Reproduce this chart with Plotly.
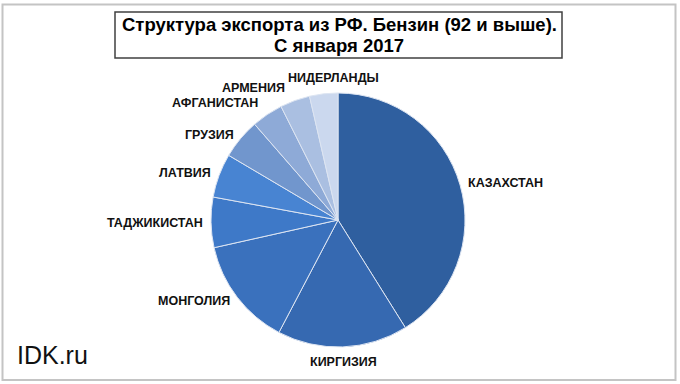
import math
import plotly.graph_objects as go

countries = ["КАЗАХСТАН", "КИРГИЗИЯ", "МОНГОЛИЯ", "ТАДЖИКИСТАН", "ЛАТВИЯ",
             "ГРУЗИЯ", "АФГАНИСТАН", "АРМЕНИЯ", "НИДЕРЛАНДЫ"]
shares = [41.1, 16.6, 13.8, 6.4, 5.6, 5.1, 4.0, 3.8, 3.6]
colors = ["#2F5F9F", "#3669B1", "#3A71BD", "#3E79C8", "#4884D2",
          "#7196CD", "#8EAAD7", "#AABFE1", "#CBD8EE"]

title_lines = ["Структура экспорта из РФ. Бензин (92 и выше).", "С января 2017"]
watermark = "IDK.ru"

W, H = 680, 384
cx, cy, r = 338, 220, 127
FONT = "Arial, 'Liberation Sans', sans-serif"
LBL = 12.5

fig = go.Figure()
fig.add_trace(go.Pie(
    labels=countries, values=shares, sort=False, direction="clockwise",
    rotation=0, textinfo="none", hoverinfo="label+percent",
    marker=dict(colors=colors, line=dict(color="#dde5f2", width=1)),
    domain=dict(x=[(cx - r) / W, (cx + r) / W],
                y=[1 - (cy + r) / H, 1 - (cy - r) / H]),
    showlegend=False,
))

# ---- outside labels: start at slice mid-angles, spread apart to avoid overlap
total = sum(shares)
angles = []
cum = 0.0
for v in shares:
    angles.append((cum + v / 2) / total * 2 * math.pi)
    cum += v
k = 1.05
widths = [len(n) * 0.72 * LBL for n in countries]
hgt = LBL * 1.2


def place(a, w):
    s, c = math.sin(a), math.cos(a)
    px, py = cx + s * r * k, cy - c * r * k
    xa = "left" if s > 0.25 else ("right" if s < -0.25 else "center")
    ya = "bottom" if c > 0.75 else ("top" if c < -0.75 else "middle")
    x0 = px if xa == "left" else (px - w if xa == "right" else px - w / 2)
    y0 = py - hgt if ya == "bottom" else (py if ya == "top" else py - hgt / 2)
    return px, py, xa, ya, (x0, y0, x0 + w, y0 + hgt)


def overlap(b1, b2, pad=2):
    return not (b1[2] + pad <= b2[0] or b2[2] + pad <= b1[0] or
                b1[3] <= b2[1] or b2[3] <= b1[1])


n = len(countries)
step = math.radians(0.25)
for _ in range(400):
    moved = False
    for i in range(n):
        j = (i + 1) % n
        bi = place(angles[i], widths[i])[4]
        bj = place(angles[j], widths[j])[4]
        if overlap(bi, bj):
            angles[i] -= step
            angles[j] += step
            moved = True
    if not moved:
        break

for name, a, w in zip(countries, angles, widths):
    px, py, xa, ya, _ = place(a, w)
    fig.add_annotation(x=px / W, y=1 - py / H, xref="paper", yref="paper",
                       text="<b>" + name + "</b>", showarrow=False,
                       xanchor=xa, yanchor=ya,
                       font=dict(family=FONT, size=LBL, color="#111111"))

# ---- title box
fig.add_shape(type="rect", xref="paper", yref="paper",
              x0=115 / W, x1=562 / W, y0=1 - 58 / H, y1=1 - 12 / H,
              line=dict(color="#404040", width=1.5), fillcolor="#ffffff")
for ln, yc in zip(title_lines, [25, 46]):
    fig.add_annotation(x=339 / W, y=1 - yc / H, xref="paper", yref="paper",
                       text="<b>" + ln + "</b>", showarrow=False,
                       xanchor="center", yanchor="middle",
                       font=dict(family=FONT, size=18.5, color="#000000"))

fig.add_annotation(x=15 / W, y=1 - 355 / H, xref="paper", yref="paper",
                   text=watermark, showarrow=False, xanchor="left",
                   yanchor="middle",
                   font=dict(family=FONT, size=25, color="#111111"))

# ---- outer frame
fig.add_shape(type="rect", xref="paper", yref="paper",
              x0=2.5 / W, x1=675.5 / W, y0=1 - 380 / H, y1=1 - 4.5 / H,
              line=dict(color="#c4c4c4", width=2))

fig.update_layout(width=W, height=H, margin=dict(l=0, r=0, t=0, b=0),
                  paper_bgcolor="#ffffff", plot_bgcolor="#ffffff")

fig.write_html("out.html", config={"displayModeBar": False},
               post_script="document.body.style.margin='0px';"
                           "document.body.style.overflow='hidden';")
